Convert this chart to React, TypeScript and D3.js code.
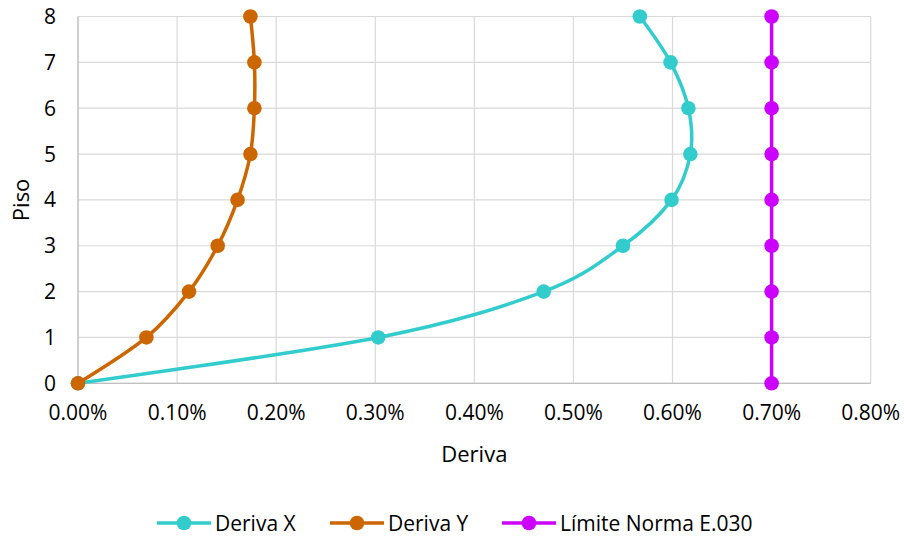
import React from "react";
import * as d3 from "d3";

// Floors and drift values (as percentages)
const floors = [0, 1, 2, 3, 4, 5, 6, 7, 8];
const derivaX = [0, 0.303, 0.47, 0.55, 0.599, 0.618, 0.616, 0.598, 0.567];
const derivaY = [0, 0.069, 0.112, 0.141, 0.161, 0.174, 0.178, 0.178, 0.174];
const limite = [0.7, 0.7, 0.7, 0.7, 0.7, 0.7, 0.7, 0.7, 0.7];
const xTicks = [0, 0.1, 0.2, 0.3, 0.4, 0.5, 0.6, 0.7, 0.8];
const yTicks = [0, 1, 2, 3, 4, 5, 6, 7, 8];

const seriesNames = ["Deriva X", "Deriva Y", "Límite Norma E.030"];
const seriesColors = ["#33CCCC", "#CC6600", "#CC00FF"];
const seriesValues = [derivaX, derivaY, limite];
const seriesSmooth = [true, true, false];

const W = 904;
const H = 539;
const FONT = "'Open Sans', sans-serif";

export default function App() {
  const margin = { left: 78, right: 33.3, top: 16.5, bottom: 155.7 };
  const x = d3.scaleLinear().domain([0, 0.8]).range([margin.left, W - margin.right]);
  const y = d3.scaleLinear().domain([0, 8]).range([H - margin.bottom, margin.top]);

  const legendX = [157, 330, 502];

  return (
    <svg
      width={W}
      height={H}
      style={{ position: "absolute", left: 0, top: 0, background: "#fff" }}
      fontFamily={FONT}
    >
      <rect x={0} y={0} width={W} height={H} fill="#fff" />
      {/* gridlines */}
      {xTicks.map((t) => (
        <line key={"gx" + t} x1={x(t)} x2={x(t)} y1={y(0)} y2={y(8)} stroke="#d9d9d9" strokeWidth={1.2} />
      ))}
      {yTicks.map((t) => (
        <line key={"gy" + t} x1={x(0)} x2={x(0.8)} y1={y(t)} y2={y(t)} stroke="#d9d9d9" strokeWidth={1.2} />
      ))}
      {/* axes */}
      <line x1={x(0)} x2={x(0)} y1={y(0)} y2={y(8)} stroke="#bfbfbf" strokeWidth={1.2} />
      <line x1={x(0)} x2={x(0.8)} y1={y(0)} y2={y(0)} stroke="#bfbfbf" strokeWidth={1.2} />

      {/* tick labels */}
      {xTicks.map((t) => (
        <text key={"tx" + t} x={x(t)} y={y(0) + 37} textAnchor="middle" fontSize={21} fill="#000">
          {t.toFixed(2) + "%"}
        </text>
      ))}
      {yTicks.map((t) => (
        <text key={"ty" + t} x={56} y={y(t) + 7.5} textAnchor="end" fontSize={21} fill="#000">
          {t}
        </text>
      ))}

      {/* axis titles */}
      <text x={(x(0) + x(0.8)) / 2} y={462} textAnchor="middle" fontSize={22} fill="#000">
        Deriva
      </text>
      <text
        transform={`translate(29, ${(y(0) + y(8)) / 2}) rotate(-90)`}
        textAnchor="middle"
        fontSize={22}
        fill="#000"
      >
        Piso
      </text>

      {/* series */}
      {seriesValues.map((vals, si) => {
        const pts: [number, number][] = vals.map((v, i) => [x(v), y(floors[i])]);
        const gen = d3
          .line<[number, number]>()
          .x((d) => d[0])
          .y((d) => d[1])
          .curve(seriesSmooth[si] ? d3.curveCardinal.tension(0) : d3.curveLinear);
        return (
          <g key={"s" + si}>
            <path d={gen(pts) || ""} fill="none" stroke={seriesColors[si]} strokeWidth={3.5} strokeLinejoin="round" />
            {pts.map((p, i) => (
              <circle key={i} cx={p[0]} cy={p[1]} r={7.3} fill={seriesColors[si]} />
            ))}
          </g>
        );
      })}

      {/* legend */}
      {seriesNames.map((n, i) => (
        <g key={"lg" + i} transform={`translate(${legendX[i]}, 523)`}>
          <line x1={0} x2={54} y1={0} y2={0} stroke={seriesColors[i]} strokeWidth={3.5} />
          <circle cx={27} cy={0} r={7.3} fill={seriesColors[i]} />
          <text x={58} y={7.5} fontSize={21} fill="#000">
            {n}
          </text>
        </g>
      ))}
    </svg>
  );
}
